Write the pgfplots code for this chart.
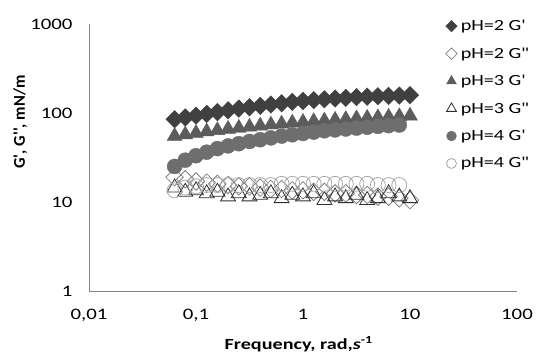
\documentclass[border=0pt]{standalone}
\usepackage{fontspec}
\setmainfont{Carlito}[FakeStretch=1.3]
\newfontfamily\ylabfont{Carlito}
\usepackage{pgfplots}
\usepackage{pgfplotstable}
\pgfplotsset{compat=1.18}
\definecolor{axgray}{HTML}{868686}
\definecolor{cA}{HTML}{404040}
\definecolor{cB}{HTML}{808080}
\definecolor{cC}{HTML}{5C5C5C}
\definecolor{cD}{HTML}{303030}
\definecolor{cE}{HTML}{6E6E6E}
\definecolor{cF}{HTML}{A8A8A8}
\newcommand{\q}{\textquotesingle}
\pgfplotstableread{
x d1 d2 t1 t2 c1 c2
0.0631 85.1 19 55.0 14.5 25.1 13.5
0.0794 89.1 18 57.1 13 29.5 14.5
0.1 93.3 17 59.3 13.5 33.1 15
0.1259 97.7 16.5 61.7 12.5 36.3 15.5
0.1585 102.3 16 63.8 13 39.8 15.5
0.1995 107.2 15.5 66.1 11.5 42.7 15.5
0.2512 112.2 15 67.9 12.5 45.2 15.5
0.3162 116.1 15 69.8 11.5 47.9 15.5
0.3981 120.2 14.5 71.8 12 50.1 15.5
0.5012 124.5 14 73.8 12.5 52.5 15.5
0.6310 128.8 14 75.7 11 55.0 16
0.7943 133.4 13.5 77.6 12 56.9 16
1 136.5 13.5 79.1 11.5 58.9 16
1.2589 139.6 13 80.5 12.5 61.0 16
1.5849 142.9 13 82.0 10.5 63.1 16
1.9953 145.5 12.5 83.6 11.5 64.6 16
2.5119 147.9 12.5 85.1 11 66.1 16
3.1623 150.7 12 86.7 12 67.6 16
3.9811 152.4 12 87.9 10.5 69.2 16
5.0119 154.2 11.5 89.1 11 70.8 15.5
6.3096 155.6 11.5 90.4 12.5 72.1 15.5
7.9433 157.0 11 91.6 11.5 73.3 15.5
10 158.5 10.5 92.9 11 nan nan
}\datatab
\begin{document}
\begin{tikzpicture}
\begin{axis}[name=ax, scale only axis, width=428bp, height=267bp,
  xmode=log, ymode=log, xmin=0.01, xmax=100, ymin=1, ymax=1000,
  axis x line=bottom, axis y line=left,
  axis line style={axgray, line width=0.8bp, -},
  xtick={0.01,0.1,1,10,100}, xticklabels={{0,01},{0,1},1,10,100},
  ytick={1,10,100,1000}, yticklabels={1,10,100,1000},
  minor xtick={}, minor ytick={},
  tick style={draw=none}, major tick length=0pt,
  tick label style={font=\fontsize{16bp}{19bp}\selectfont, text=black},
  xticklabel style={yshift=-15bp},
  yticklabel style={xshift=-13bp},
  xlabel={\bfseries Frequency, rad,\textit{s}\textsuperscript{-1}},
  xlabel style={at={(axis description cs:0.49,-0.199)}, anchor=center, font=\fontsize{15.5bp}{18bp}\selectfont},
  ylabel={\ylabfont\bfseries G\q, G\q\q, mN/m},
  ylabel style={at={(axis description cs:-0.161,0.633)}, anchor=center, font=\fontsize{16.5bp}{19bp}\selectfont},
  clip=false,
  legend cell align=left,
  legend style={at={(axis description cs:0.826,1.03)}, anchor=north west, draw=none, fill=none,
    font=\fontsize{15.5bp}{19bp}\selectfont, row sep=11.5bp,
    nodes={inner sep=2bp}, /tikz/every odd column/.append style={column sep=1.5bp}},
  legend image code/.code={\draw[#1, /tikz/every mark/.append style={scale=0.66}] plot coordinates {(0bp,0bp)};},
]
\addplot[only marks, color=cA, mark=square*, mark size=6.2bp, mark options={rotate=45}] table[x=x,y=d1] {\datatab};
\addlegendentry{pH=2 G\q}
\addplot[only marks, color=cB, line width=0.8bp, mark=square, mark size=6.2bp, mark options={rotate=45}] table[x=x,y=d2] {\datatab};
\addlegendentry{pH=2 G\q\q}
\addplot[only marks, color=cC, mark=triangle*, mark size=8.6bp] table[x=x,y=t1] {\datatab};
\addlegendentry{pH=3 G\q}
\addplot[only marks, color=cD, line width=0.8bp, mark=triangle, mark size=8.6bp] table[x=x,y=t2] {\datatab};
\addlegendentry{pH=3 G\q\q}
\addplot[only marks, color=cE, mark=*, mark size=7.5bp] table[x=x,y=c1] {\datatab};
\addlegendentry{pH=4 G\q}
\addplot[only marks, color=cF, line width=0.8bp, mark=o, mark size=7.5bp] table[x=x,y=c2] {\datatab};
\addlegendentry{pH=4 G\q\q}
\end{axis}
\pgfresetboundingbox
\path[use as bounding box] ([shift={(-89bp,-62bp)}]ax.south west) rectangle ([shift={(447bp,291bp)}]ax.south west);
\end{tikzpicture}
\end{document}
